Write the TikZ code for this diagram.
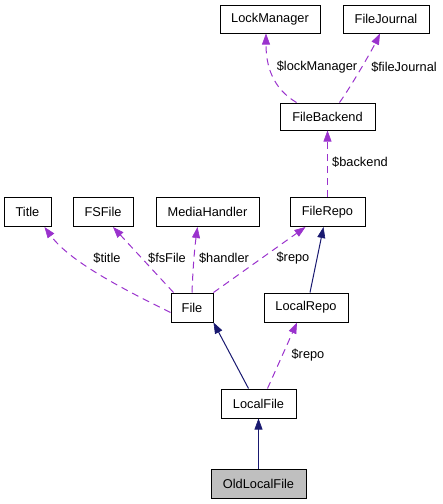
\documentclass[tikz,border=0pt]{standalone}
\usepackage{fontspec}
\setmainfont{Liberation Sans}
\usetikzlibrary{arrows.meta}
\definecolor{edgepurple}{HTML}{9A32CD}
\definecolor{edgenavy}{HTML}{191970}
\definecolor{boxgrey}{HTML}{BFBFBF}
\begin{document}
\begin{tikzpicture}[x=1pt,y=-1pt,
  every node/.style={font=\fontsize{12.8}{14}\selectfont},
  cls/.style={draw=black,line width=1pt,fill=white,inner sep=0pt,minimum height=28pt},
  uses/.style={draw=edgepurple,line width=1pt,dash pattern=on 7pt off 5pt,-{Triangle[length=11pt,width=8pt,fill=edgepurple,line width=0.6pt]}},
  inherits/.style={draw=edgenavy,line width=1pt,-{Triangle[length=11pt,width=8pt,fill=edgenavy,line width=0.6pt]}},
  lbl/.style={inner sep=0pt,fill=none}]
\useasboundingbox (0,0) rectangle (443,504);
% nodes
\node[cls,minimum width=100pt] (lock) at (270,19) {LockManager};
\node[cls,minimum width=86pt] (journal) at (386,19) {FileJournal};
\node[cls,minimum width=95pt,minimum height=27pt] (backend) at (327.5,116.5) {FileBackend};
\node[cls,minimum width=47pt,minimum height=29pt] (title) at (27.5,212) {Title};
\node[cls,minimum width=60pt,minimum height=29pt] (fsfile) at (103,212) {FSFile};
\node[cls,minimum width=103pt,minimum height=29pt] (media) at (207.5,212) {MediaHandler};
\node[cls,minimum width=75pt,minimum height=29pt] (filerepo) at (327.5,212) {FileRepo};
\node[cls,minimum width=42pt,minimum height=29pt] (file) at (192,307.5) {File};
\node[cls,minimum width=84pt,minimum height=29pt] (localrepo) at (306,307.5) {LocalRepo};
\node[cls,minimum width=75pt,minimum height=29pt] (localfile) at (258.5,403.5) {LocalFile};
\node[cls,minimum width=95pt,minimum height=29pt,fill=boxgrey] (old) at (258.5,483.5) {OldLocalFile};
% coordinates on node borders
\coordinate (bkA) at ([xshift=-31pt]backend.north);
\coordinate (bkB) at ([xshift=12pt]backend.north);
\coordinate (lockS) at ([xshift=-4pt]lock.south);
\coordinate (journalS) at ([xshift=-6pt]journal.south);
\coordinate (fileW) at ([yshift=-5pt]file.west);
\coordinate (fileA) at ([xshift=3pt]file.north west);
\coordinate (fileB) at (file.north);
\coordinate (fileC) at (file.north east);
\coordinate (titleS) at ([xshift=17pt]title.south);
\coordinate (fsS) at ([xshift=10pt]fsfile.south);
\coordinate (mediaS) at ([xshift=-10pt]media.south);
\coordinate (repoA) at ([xshift=-22pt]filerepo.south);
\coordinate (repoB) at ([xshift=-4pt]filerepo.south);
\coordinate (lrN) at ([xshift=4pt]localrepo.north);
\coordinate (lrS) at ([xshift=-9pt]localrepo.south);
\coordinate (lfA) at ([xshift=-10pt]localfile.north);
\coordinate (lfB) at ([xshift=9pt]localfile.north);
% edges
\draw[uses] (bkA) .. controls (272,88) and (266,65) .. (lockS);
\draw[uses] (bkB) .. controls (352,85) and (372,50) .. (journalS);
\draw[uses] (filerepo.north) -- (backend.south);
\draw[uses] (fileW) .. controls (125,290) and (70,262) .. (titleS);
\draw[uses] (fileA) -- (fsS);
\draw[uses] (fileB) .. controls (193,265) and (195,245) .. (mediaS);
\draw[uses] (fileC) -- (repoA);
\draw[inherits] (lrN) -- (repoB);
\draw[inherits] (lfA) -- (file.south east);
\draw[uses] (lfB) -- (lrS);
\draw[inherits] (old.north) -- (localfile.south);
% labels
\node[lbl] (l1) at (317,67) {\$lockManager};
\node[lbl] (l2) at (404,67) {\$fileJournal};
\node[lbl] (l3) at (360,162) {\$backend};
\node[lbl] (l4) at (107,258) {\$title};
\node[lbl] (l5) at (167,258) {\$fsFile};
\node[lbl] (l6) at (224,258) {\$handler};
\node[lbl] (l7) at (293,258) {\$repo};
\node[lbl] (l8) at (308,355) {\$repo};
\end{tikzpicture}
\end{document}
